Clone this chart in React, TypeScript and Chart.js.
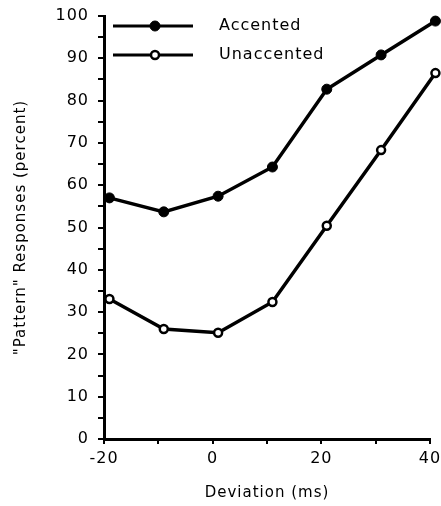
import React, { useEffect, useRef } from "react";
import { Chart, registerables } from "chart.js";

Chart.register(...registerables);

const deviations = [-19, -9, 1, 11, 21, 31, 41];
const accented = [57.0, 53.7, 57.4, 64.3, 82.7, 90.8, 98.8];
const unaccented = [33.1, 26.0, 25.1, 32.4, 50.4, 68.3, 86.5];
const seriesNames = ["Accented", "Unaccented"];
const xTitle = "Deviation (ms)";
const yTitle = "\"Pattern\" Responses (percent)";

const FONT = "'DejaVu Sans', sans-serif";

const spacing = {
  id: "spacing",
  beforeLayout(chart: any) {
    chart.ctx.letterSpacing = "1px";
  },
  beforeDraw(chart: any) {
    chart.ctx.letterSpacing = "1px";
  },
};

const insideLegend = {
  id: "insideLegend",
  afterDraw(chart: any) {
    const ctx = chart.ctx;
    const area = chart.chartArea;
    const rows = [10, 39];
    chart.data.datasets.forEach((ds: any, i: number) => {
      const y = area.top + rows[i];
      const x1 = area.left + 9;
      const x2 = area.left + 89;
      const xm = area.left + 51;
      ctx.save();
      ctx.strokeStyle = "#000";
      ctx.lineWidth = 3;
      ctx.beginPath();
      ctx.moveTo(x1, y);
      ctx.lineTo(x2, y);
      ctx.stroke();
      ctx.beginPath();
      ctx.arc(xm, y, ds.pointRadius, 0, Math.PI * 2);
      ctx.fillStyle = ds.pointBackgroundColor;
      ctx.fill();
      ctx.lineWidth = ds.pointBorderWidth;
      ctx.stroke();
      ctx.fillStyle = "#000";
      ctx.font = "16px " + FONT;
      ctx.letterSpacing = "1px";
      ctx.textBaseline = "middle";
      ctx.textAlign = "left";
      ctx.fillText(ds.label, area.left + 115, y);
      ctx.restore();
    });
  },
};

export default function App() {
  const ref = useRef<HTMLCanvasElement>(null);
  useEffect(() => {
    document.body.style.margin = "0";
    const chart = new Chart(ref.current!, {
      type: "line",
      data: {
        datasets: [
          {
            label: seriesNames[0],
            data: deviations.map((x, i) => ({ x, y: accented[i] })),
            borderColor: "#000",
            borderWidth: 3.5,
            pointRadius: 5,
            pointBackgroundColor: "#000",
            pointBorderColor: "#000",
            pointBorderWidth: 1,
            clip: false as any,
          },
          {
            label: seriesNames[1],
            data: deviations.map((x, i) => ({ x, y: unaccented[i] })),
            borderColor: "#000",
            borderWidth: 3.5,
            pointRadius: 4,
            pointBackgroundColor: "#fff",
            pointBorderColor: "#000",
            pointBorderWidth: 2.5,
            clip: false as any,
          },
        ],
      },
      options: {
        animation: false,
        responsive: false,
        layout: { padding: { top: 16, right: 11, left: 0, bottom: 0 } },
        plugins: { legend: { display: false }, tooltip: { enabled: false } },
        scales: {
          x: {
            type: "linear",
            min: -20,
            max: 40,
            afterFit: (s: any) => {
              s.height = 67;
              s.paddingRight = 0;
              s.paddingLeft = 0;
            },
            border: { color: "#000", width: 3 },
            grid: {
              drawOnChartArea: false,
              drawTicks: true,
              tickLength: 5,
              color: "#000",
              lineWidth: 2,
            },
            ticks: {
              stepSize: 10,
              color: "#000",
              font: { family: FONT, size: 16 },
              padding: 5,
              maxRotation: 0,
              callback: (v: any) => (Number(v) % 20 === 0 ? String(v) : ""),
            },
            title: {
              display: true,
              text: xTitle,
              color: "#000",
              font: { family: FONT, size: 15 },
              padding: { top: 8, bottom: 4 },
            },
          },
          y: {
            min: 0,
            max: 100,
            afterFit: (s: any) => {
              s.width = 104;
              s.paddingTop = 0;
              s.paddingBottom = 0;
            },
            border: { color: "#000", width: 3 },
            grid: {
              drawOnChartArea: false,
              drawTicks: true,
              tickLength: 6,
              color: "#000",
              lineWidth: 2,
            },
            ticks: {
              stepSize: 5,
              autoSkip: false,
              color: "#000",
              font: { family: FONT, size: 16 },
              padding: 9,
              callback: (v: any) => (Number(v) % 10 === 0 ? String(v) : ""),
            },
            title: {
              display: true,
              text: yTitle,
              color: "#000",
              font: { family: FONT, size: 15 },
              padding: { top: 12, bottom: 0 },
            },
          },
        },
      },
      plugins: [spacing, insideLegend],
    });
    return () => chart.destroy();
  }, []);
  return (
    <div style={{ width: 441, height: 506 }}>
      <canvas ref={ref} width={441} height={506} />
    </div>
  );
}
